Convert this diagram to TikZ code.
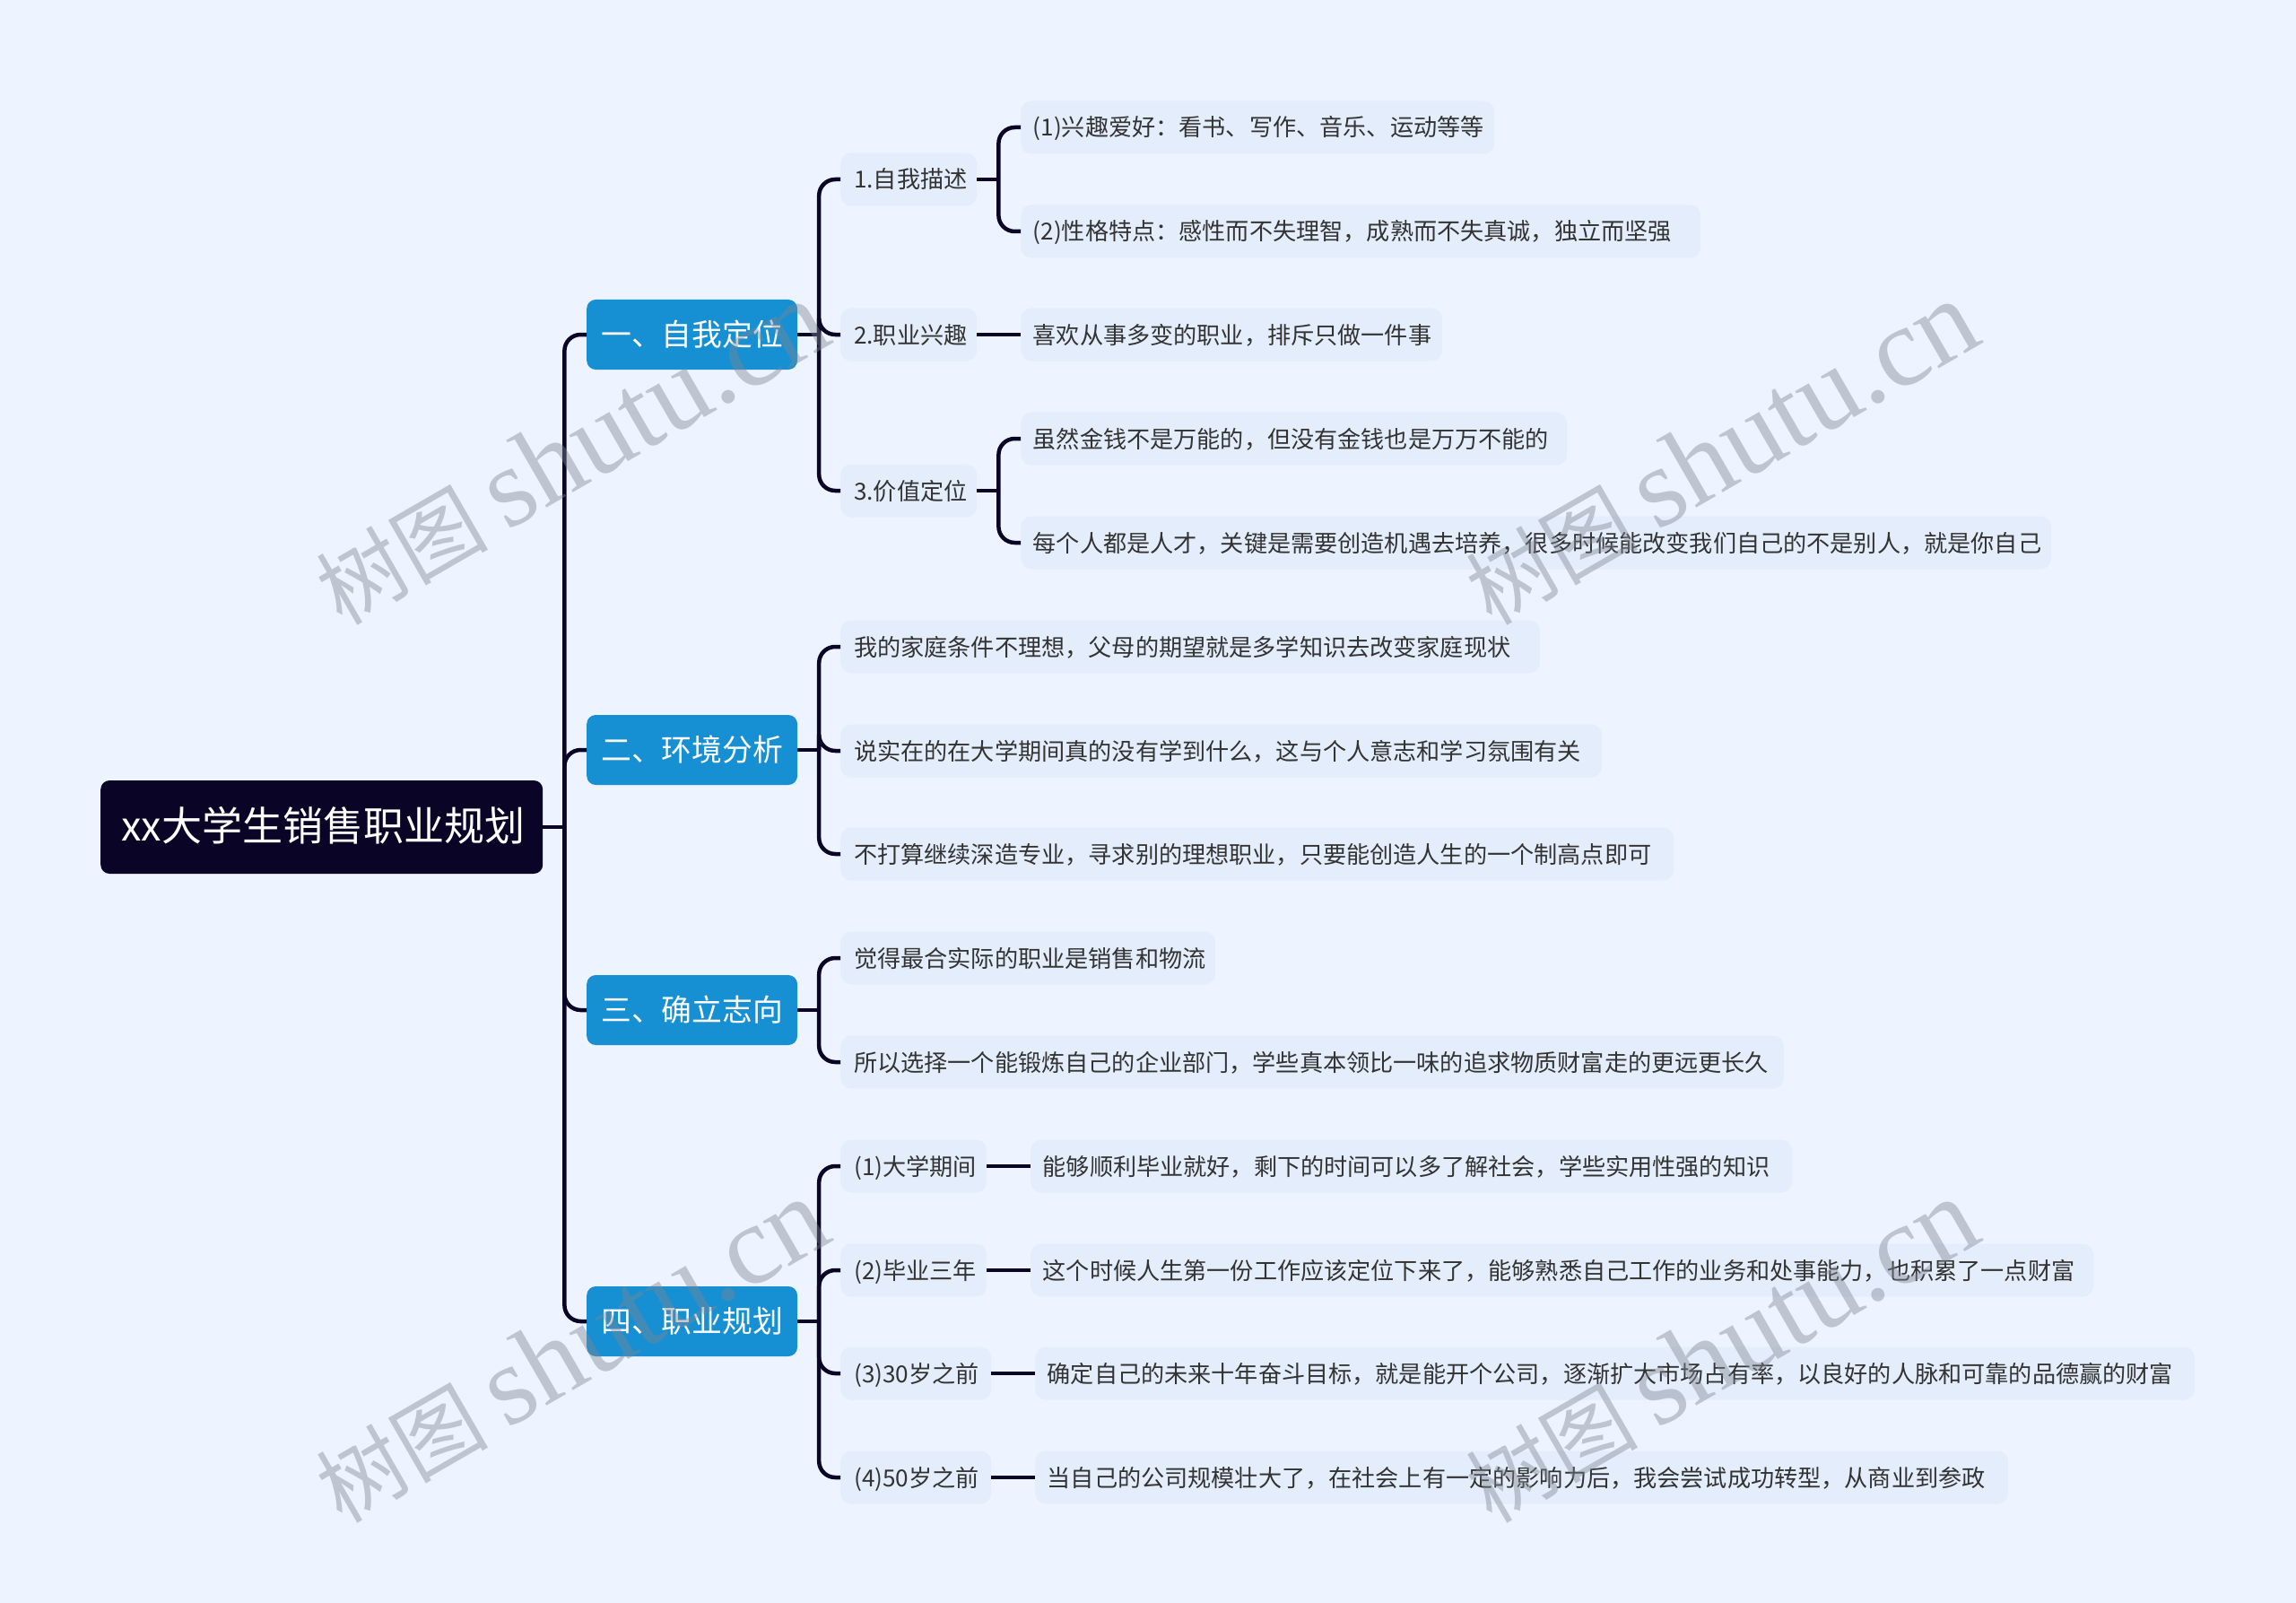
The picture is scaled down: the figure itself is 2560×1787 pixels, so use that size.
\documentclass[tikz,border=0pt]{standalone}
\usepackage{fontspec}
\setmainfont{Noto Sans CJK SC}
\newfontfamily\wmcjk{Noto Sans CJK SC}
\newfontfamily\wmlat{Liberation Serif}
\usetikzlibrary{calc}
\definecolor{bgc}{HTML}{EDF4FF}
\definecolor{rootc}{HTML}{0A0527}
\definecolor{topicc}{HTML}{1690D2}
\definecolor{leafc}{HTML}{E4EDFB}
\definecolor{textc}{HTML}{333333}
\definecolor{wmc}{HTML}{7F8590}
\tikzset{
  rootbox/.style={fill=rootc,text=white,rounded corners=10,anchor=west,font=\fontsize{45}{48}\selectfont,inner xsep=18,inner ysep=0,minimum width=493,minimum height=104,text height=37,text depth=6},
  topicbox/.style={fill=topicc,text=white,rounded corners=10,anchor=west,font=\fontsize{33.8}{38}\selectfont,inner xsep=16,inner ysep=0,minimum height=78,text height=29.5,text depth=4.5},
  leafbox/.style={fill=leafc,text=textc,rounded corners=12,anchor=west,font=\fontsize{26.15}{30}\selectfont,inner xsep=13.5,inner ysep=0,minimum height=59,text height=23.5,text depth=3.5,align=left},
  wide/.style={text width=#1-27},
  widea/.style={inner xsep=15,text width=#1-30},
  conn/.style={draw=rootc,line width=4.5},
  wmark/.style={text=wmc,opacity=.42,rotate=30,anchor=center,inner sep=0}
}
\newcommand{\linkkids}[2]{%
  \coordinate (h#1) at ($(#1.east)+(24,0)$);
  \draw[conn] (#1.east) -- (h#1);
  \foreach \kid in {#2} {\draw[conn,rounded corners=18] (h#1) |- (\kid.west);}
}
\newcommand{\wmtext}{{\fontsize{96}{110}\wmcjk 树图}\hspace{20pt}{\fontsize{126}{130}\wmlat shutu.cn}}
\begin{document}
\begin{tikzpicture}[x=1pt,y=-1pt]
\useasboundingbox (0,0) rectangle (2560,1787);
\fill[bgc] (0,0) rectangle (2560,1787);

\node[rootbox] (root) at (112,922) {\hspace*{3pt}xx大学生销售职业规划};

\node[topicbox] (t1) at (654,373) {一、自我定位};
\node[topicbox] (t2) at (654,836) {二、环境分析};
\node[topicbox] (t3) at (654,1126) {三、确立志向};
\node[topicbox] (t4) at (654,1473) {四、职业规划};

\node[leafbox,widea=152] (a1) at (937,200) {1.自我描述};
\node[leafbox,widea=152] (a2) at (937,373) {2.职业兴趣};
\node[leafbox,widea=152] (a3) at (937,547) {3.价值定位};
\node[leafbox,wide=528] (a1x) at (1138,142) {(1)兴趣爱好：看书、写作、音乐、运动等等};
\node[leafbox,wide=758] (a1y) at (1138,258) {(2)性格特点：感性而不失理智，成熟而不失真诚，独立而坚强};
\node[leafbox,wide=470] (a2x) at (1138,373) {喜欢从事多变的职业，排斥只做一件事};
\node[leafbox,wide=609] (a3x) at (1138,489) {虽然金钱不是万能的，但没有金钱也是万万不能的};
\node[leafbox,wide=1149] (a3y) at (1138,605) {每个人都是人才，关键是需要创造机遇去培养，很多时候能改变我们自己的不是别人，就是你自己};

\node[leafbox,widea=780] (b1) at (937,721) {我的家庭条件不理想，父母的期望就是多学知识去改变家庭现状};
\node[leafbox,widea=849] (b2) at (937,837) {说实在的在大学期间真的没有学到什么，这与个人意志和学习氛围有关};
\node[leafbox,widea=929] (b3) at (937,952) {不打算继续深造专业，寻求别的理想职业，只要能创造人生的一个制高点即可};

\node[leafbox,widea=418] (c1) at (937,1068) {觉得最合实际的职业是销售和物流};
\node[leafbox,widea=1052] (c2) at (937,1184) {所以选择一个能锻炼自己的企业部门，学些真本领比一味的追求物质财富走的更远更长久};

\node[leafbox,widea=163] (d1) at (937,1300) {(1)大学期间};
\node[leafbox,widea=163] (d2) at (937,1416) {(2)毕业三年};
\node[leafbox,widea=168] (d3) at (937,1531) {(3)30岁之前};
\node[leafbox,widea=168] (d4) at (937,1647) {(4)50岁之前};
\node[leafbox,wide=849] (d1x) at (1149,1300) {能够顺利毕业就好，剩下的时间可以多了解社会，学些实用性强的知识};
\node[leafbox,wide=1185] (d2x) at (1149,1416) {这个时候人生第一份工作应该定位下来了，能够熟悉自己工作的业务和处事能力，也积累了一点财富};
\node[leafbox,wide=1293] (d3x) at (1154,1531) {确定自己的未来十年奋斗目标，就是能开个公司，逐渐扩大市场占有率，以良好的人脉和可靠的品德赢的财富};
\node[leafbox,wide=1085] (d4x) at (1154,1647) {当自己的公司规模壮大了，在社会上有一定的影响力后，我会尝试成功转型，从商业到参政};

\linkkids{root}{t1,t2,t3,t4}
\linkkids{t1}{a1,a2,a3}
\linkkids{t2}{b1,b2,b3}
\linkkids{t3}{c1,c2}
\linkkids{t4}{d1,d2,d3,d4}
\linkkids{a1}{a1x,a1y}
\linkkids{a3}{a3x,a3y}
\draw[conn] (a2) -- (a2x);
\draw[conn] (d1) -- (d1x);
\draw[conn] (d2) -- (d2x);
\draw[conn] (d3) -- (d3x);
\draw[conn] (d4) -- (d4x);

\node[wmark] (w1) at (637,505) {\wmtext};
\node[wmark] (w2) at (1919,505) {\wmtext};
\node[wmark] (w3) at (637,1506) {\wmtext};
\node[wmark] (w4) at (1919,1506) {\wmtext};
\end{tikzpicture}
\end{document}
